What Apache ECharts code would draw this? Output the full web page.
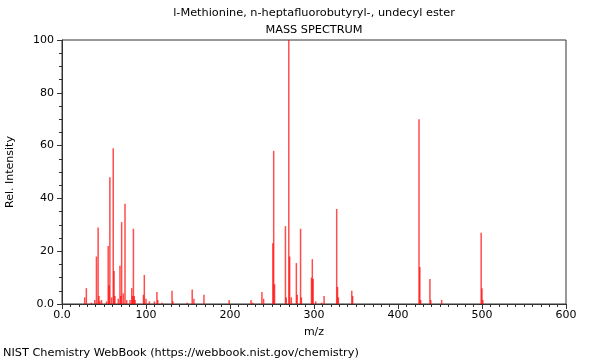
<!DOCTYPE html>
<html><head><meta charset="utf-8">
<script src="https://cdn.jsdelivr.net/npm/echarts@6/dist/echarts.min.js"></script>
<style>html,body{margin:0;padding:0;background:#fff}#c{width:600px;height:360px}</style>
</head><body><div id="c"></div>
<script>
const mz = [27,29,35,39,41,43,44,45,47,53,55,56,57,59,61,62,63,67,69,70,71,73,75,77,81,83,84,85,86,87,97,98,100,104,110,113,114,119,131,132,149,155,157,169,199,225,227,238,240,251,252,253,266,267,270,271,273,279,280,284,285,297,298,299,302,309,312,327,328,329,345,346,425,426,427,438,439,452,499,500,501];
const intensity = [2.5,6,0.5,1.5,18,29,3,1,1.5,1,22,7,48,2.5,59,12.5,3,2,14.5,3,31,4,38,1.5,1.5,6,3,28.5,3,1.5,3.5,11,2,1,1,4.5,1.5,0.5,5,1,0.5,5.5,2,3.5,1.5,1.5,0.5,4.5,2,23,58,7.5,29.5,2.5,100,18,2.5,15.5,3.5,28.5,2.5,10,17,9.5,1,0.5,3,36,6.5,2.5,5,3,70,14,1.5,9.5,1.5,1.5,27,6,1.5];
const yTicks = [0,20,40,60,80,100];
const xTicks = [0,100,200,300,400,500,600];
const title1 = 'l-Methionine, n-heptafluorobutyryl-, undecyl ester';
const title2 = 'MASS SPECTRUM';
const footer = 'NIST Chemistry WebBook (https://webbook.nist.gov/chemistry)';

const data = mz.map((m, i) => [m, intensity[i]]);
const chart = echarts.init(document.getElementById('c'), null, {renderer: 'canvas'});
const FONT = 'DejaVu Sans';
chart.setOption({
  animation: false,
  backgroundColor: '#fff',
  graphic: [
    {type: 'text', x: 314, y: 13, style: {text: title1, fontFamily: FONT, fontSize: 11.3, fill: '#000', align: 'center', verticalAlign: 'middle'}},
    {type: 'text', x: 314, y: 30, style: {text: title2, fontFamily: FONT, fontSize: 11.3, fill: '#000', align: 'center', verticalAlign: 'middle'}},
    {type: 'text', x: 3, y: 353, style: {text: footer, fontFamily: FONT, fontSize: 11.3, fill: '#000', align: 'left', verticalAlign: 'middle'}}
  ],
  grid: {left: 62, right: 34, top: 40, bottom: 56, containLabel: false, outerBoundsMode: 'none', show: true, borderColor: '#333', borderWidth: 1, backgroundColor: 'transparent'},
  xAxis: {
    type: 'value', min: 0, max: 600, interval: 100,
    name: 'm/z', nameLocation: 'middle', nameGap: 23,
    nameTextStyle: {fontFamily: FONT, fontSize: 11, color: '#000'},
    axisLine: {show: true, lineStyle: {color: '#333'}},
    axisTick: {show: true, length: 5, lineStyle: {color: '#333'}},
    minorTick: {show: true, splitNumber: 10, length: 3, lineStyle: {color: '#333'}},
    splitLine: {show: false},
    axisLabel: {fontFamily: FONT, fontSize: 11, color: '#000', margin: 6,
      formatter: v => xTicks.includes(v) ? (v === 0 ? '0.0' : String(v)) : ''}
  },
  yAxis: {
    type: 'value', min: 0, max: 100, interval: 20,
    name: 'Rel. Intensity', nameLocation: 'middle', nameGap: 46, nameRotate: 90,
    nameTextStyle: {fontFamily: FONT, fontSize: 11, color: '#000'},
    axisLine: {show: true, lineStyle: {color: '#333'}},
    axisTick: {show: true, length: 5, lineStyle: {color: '#333'}},
    minorTick: {show: true, splitNumber: 4, length: 3, lineStyle: {color: '#333'}},
    splitLine: {show: false},
    axisLabel: {fontFamily: FONT, fontSize: 11, color: '#000', margin: 8,
      formatter: v => yTicks.includes(v) ? (v === 0 ? '0.0' : String(v)) : ''}
  },
  series: [{
    type: 'custom',
    data: data,
    clip: true,
    renderItem: function (params, api) {
      const top = api.coord([api.value(0), api.value(1)]);
      const base = api.coord([api.value(0), 0]);
      return {
        type: 'rect',
        shape: {x: top[0] - 0.75, y: top[1], width: 1.5, height: base[1] - top[1]},
        style: {fill: 'rgba(255,0,0,0.7)'}
      };
    }
  }]
});
</script></body></html>
